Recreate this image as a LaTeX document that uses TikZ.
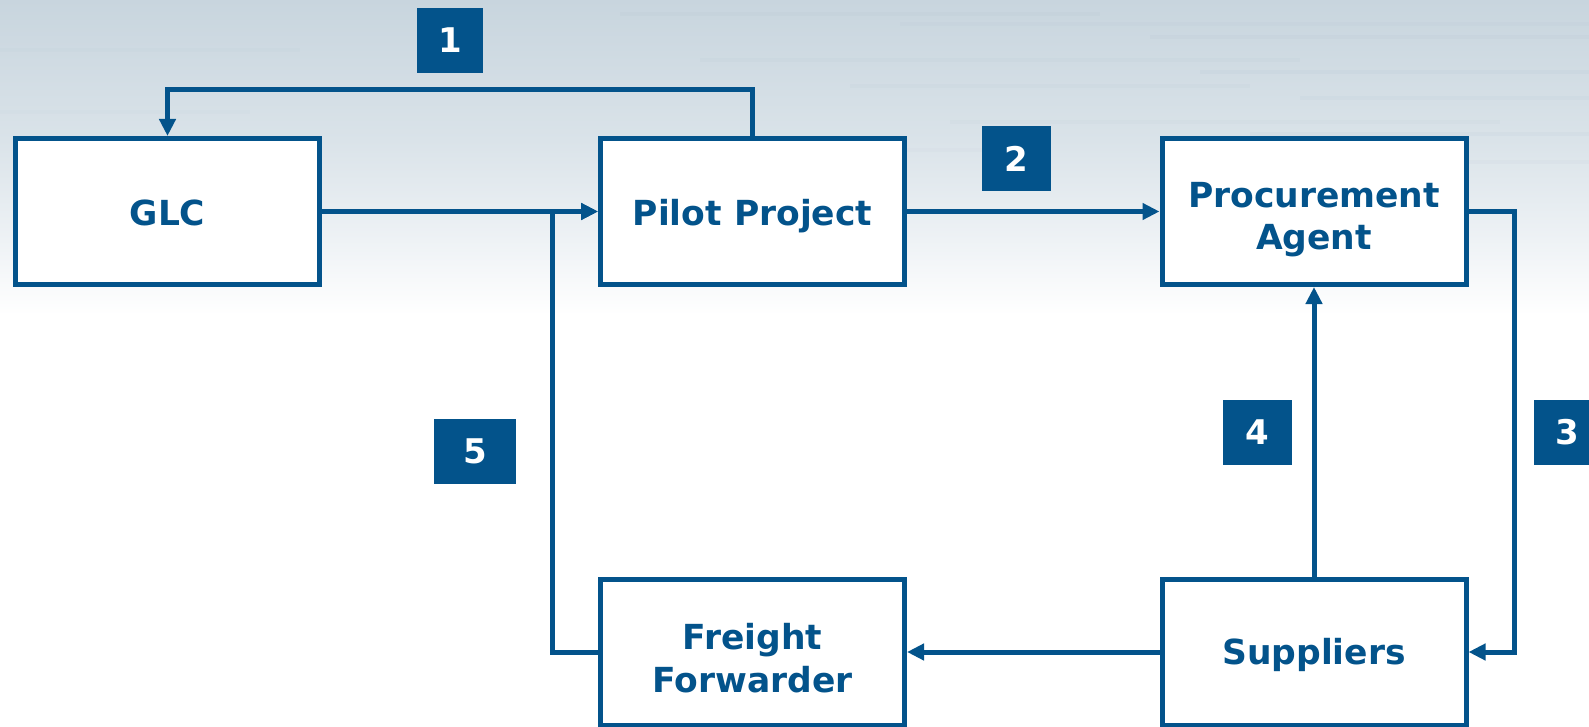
\documentclass[tikz,border=0pt]{standalone}
\usepackage{fontspec}
\setmainfont{DejaVu Sans}
\usetikzlibrary{arrows.meta}
\definecolor{bl}{RGB}{3,83,139}
\definecolor{bgA}{RGB}{200,213,222}
\definecolor{bgB}{RGB}{218,227,233}
\definecolor{bgC}{RGB}{238,242,245}
\definecolor{streak}{RGB}{185,200,212}
\begin{document}
\begin{tikzpicture}[x=1pt,y=-1pt,
  box/.style={draw=bl, line width=5pt, fill=white, minimum width=304pt, minimum height=146pt,
    inner sep=0pt},
  txt/.style={inner sep=0pt, align=center, text=bl, font=\fontsize{34.5}{42.5}\selectfont\bfseries},
  num/.style={fill=bl, text=white, minimum width=66pt, minimum height=65pt, inner sep=0pt,
    font=\fontsize{34}{40}\selectfont\bfseries},
  conn/.style={draw=bl, line width=5pt},
  arr/.style={conn, -{Triangle[length=17pt,width=16pt]}},
]
\useasboundingbox (0,0) rectangle (1589,727);
\clip (0,0) rectangle (1589,727);
\fill[white] (0,0) rectangle (1589,727);
\shade[top color=bgA, bottom color=bgB] (0,0) rectangle (1589,140);
\shade[top color=bgB, bottom color=bgC] (0,140) rectangle (1589,240);
\shade[top color=bgC, bottom color=white] (0,240) rectangle (1589,315);
% brushed streaks
\foreach \yy/\xa/\xb/\op in {12/620/1100/0.2, 22/900/1589/0.16, 35/1150/1589/0.2, 48/0/300/0.1,
  58/700/1300/0.14, 70/1200/1589/0.18, 84/850/1250/0.12, 96/1300/1589/0.16, 110/0/250/0.08,
  120/950/1500/0.11, 132/1250/1589/0.13, 148/600/1000/0.08, 160/1350/1589/0.1}
  \fill[streak, opacity=\op] (\xa,\yy) rectangle (\xb,\yy+4);

\node[box] (glc) at (167.5,211.5) {};
\node[box] (pilot) at (752.5,211.5) {};
\node[box] (pa) at (1314,211.5) {};
\node[box] (ff) at (752.5,652) {};
\node[box] (sup) at (1314,652) {};

\node[txt, anchor=base] (glct) at ([yshift=-14.5pt]glc.center) {GLC};
\node[txt, anchor=base] (pilott) at ([yshift=-14.5pt]pilot.center) {Pilot Project};
\node[txt] (pat) at ([yshift=-8pt]pa.center) {Procurement\\Agent};
\node[txt] (fft) at ([yshift=-6pt]ff.center) {Freight\\Forwarder};
\node[txt, anchor=base] (supt) at ([yshift=-12pt]sup.center) {Suppliers};

\node[num] (n1) at (450,40.5) {1};
\node[num, minimum width=69pt] (n2) at (1016.5,158.5) {2};
\node[num] (n3) at (1567,432.5) {3};
\node[num, minimum width=69pt] (n4) at (1257.5,432.5) {4};
\node[num, minimum width=82pt] (n5) at (475,451.5) {5};

\draw[arr] (pilot.north) -- ++(0,-46) -| (glc.north);
\draw[arr] (glc.east) -- (pilot.west);
\draw[arr] (pilot.east) -- (pa.west);
\draw[arr] (pa.east) -- ++(46,0) |- (sup.east);
\draw[arr] (sup.north) -- (pa.south);
\draw[arr] (sup.west) -- (ff.east);
\draw[arr] (ff.west) -- ++(-46,0) |- (pilot.west);
\end{tikzpicture}
\end{document}
